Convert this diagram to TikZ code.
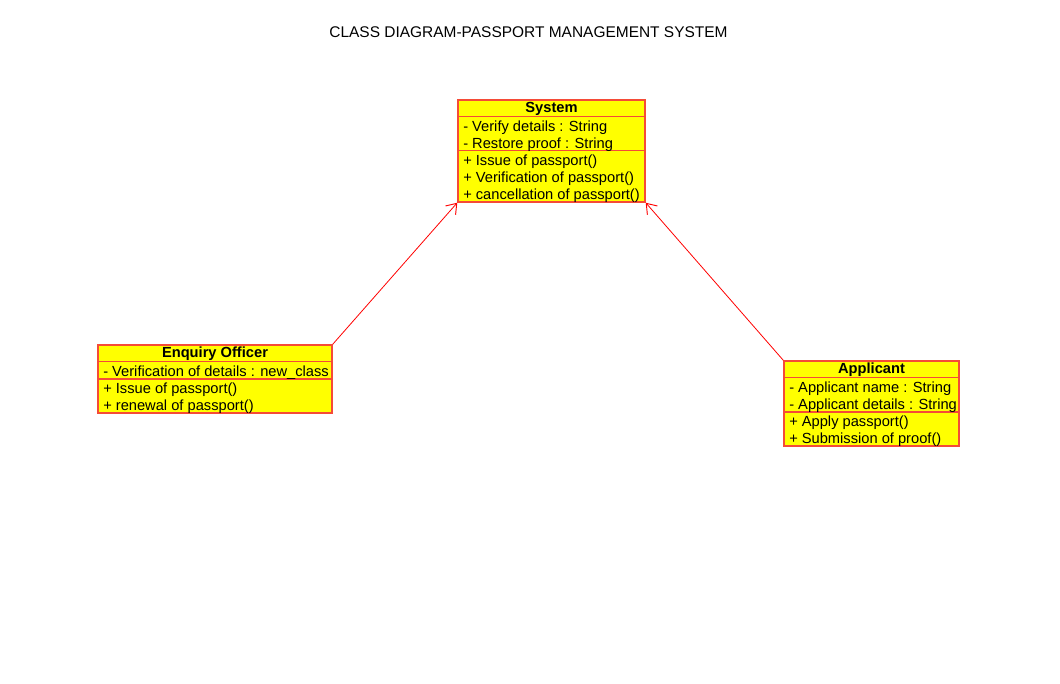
\documentclass[tikz,border=0pt]{standalone}
\usepackage{fontspec}
\setmainfont{Liberation Sans}
\usetikzlibrary{arrows.meta,calc}
\definecolor{boxred}{RGB}{245,75,55}
\definecolor{boxfill}{RGB}{255,255,0}
\definecolor{linkred}{RGB}{255,0,0}
\tikzset{
  cls/.style={draw=boxred, fill=boxfill, line width=1.1pt, rectangle, inner sep=0pt},
  div/.style={draw=boxred, line width=1.1pt},
  ctitle/.style={font=\fontsize{11pt}{12pt}\selectfont\bfseries, inner sep=0pt, anchor=center},
  member/.style={font=\fontsize{11pt}{12pt}\selectfont, inner sep=0pt, anchor=west},
  assoc/.style={draw=linkred, line width=0.6pt, -{Straight Barb[length=7pt,width=10pt,line width=0.7pt]}},
}
\begin{document}
\begin{tikzpicture}[x=0.75pt,y=-0.75pt]
\useasboundingbox[fill=white] (0,0) rectangle (1060,684);

\node[font=\fontsize{11.6pt}{12pt}\selectfont, inner sep=0pt] (title) at (528.5,32) {CLASS DIAGRAM-PASSPORT MANAGEMENT SYSTEM};

% System
\node[cls, minimum width=140.25pt, minimum height=76.5pt] (sys) at (551.5,151) {};
\draw[div] ($(sys.north west)+(0,17)$) coordinate (s1) -- ($(sys.north east)+(0,17)$) coordinate (s2);
\draw[div] ($(sys.north west)+(0,51)$) coordinate (s3) -- ($(sys.north east)+(0,51)$) coordinate (s4);
\node[ctitle] (sysT) at ($(sys.north)+(0,9.5)$) {System};
\node[member] (sysA1) at (463,127.5) {- Verify details : String};
\node[member] (sysA2) at (463,144.5) {- Restore proof : String};
\node[member] (sysO1) at (463,161.5) {+ Issue of passport()};
\node[member] (sysO2) at (463,178.5) {+ Verification of passport()};
\node[member] (sysO3) at (463,195.5) {+ cancellation of passport()};

% Enquiry Officer
\node[cls, minimum width=175.5pt, minimum height=51pt] (eo) at (215,379) {};
\draw[div] ($(eo.north west)+(0,17)$) coordinate (e1) -- ($(eo.north east)+(0,17)$) coordinate (e2);
\draw[div] ($(eo.north west)+(0,34.5)$) coordinate (e3) -- ($(eo.north east)+(0,34.5)$) coordinate (e4);
\node[ctitle] (eoT) at ($(eo.north)+(0,9.5)$) {Enquiry Officer};
\node[member] (eoA1) at (103,372.5) {- Verification of details : new\_class};
\node[member] (eoO1) at (103,389.5) {+ Issue of passport()};
\node[member] (eoO2) at (103,406.5) {+ renewal of passport()};

% Applicant
\node[cls, minimum width=131.25pt, minimum height=63.75pt] (ap) at (871.5,403.5) {};
\draw[div] ($(ap.north west)+(0,17)$) coordinate (a1) -- ($(ap.north east)+(0,17)$) coordinate (a2);
\draw[div] ($(ap.north west)+(0,51.5)$) coordinate (a3) -- ($(ap.north east)+(0,51.5)$) coordinate (a4);
\node[ctitle] (apT) at ($(ap.north)+(0,9.5)$) {Applicant};
\node[member] (apA1) at (789,388.5) {- Applicant name : String};
\node[member] (apA2) at (789,405.5) {- Applicant details : String};
\node[member] (apO1) at (789,422.5) {+ Apply passport()};
\node[member] (apO2) at (789,439.5) {+ Submission of proof()};

% associations
\draw[assoc] (eo.north east) -- (sys.south west);
\draw[assoc] (ap.north west) -- (sys.south east);
\end{tikzpicture}
\end{document}
